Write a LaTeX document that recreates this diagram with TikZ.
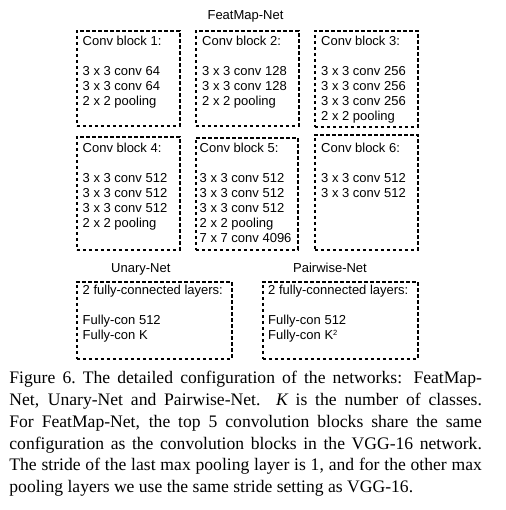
\documentclass[tikz,border=0pt]{standalone}
\usepackage{fontspec}
\newfontfamily\boxfont{Liberation Sans}
\newfontfamily\capfont{Liberation Serif}
\newcommand\bfnt{\boxfont\fontsize{13}{15}\selectfont}
\newcommand\cfnt{\capfont\fontsize{17.6}{21.9}\selectfont}
\newcommand\cfgtab[1]{\begin{tabular}[t]{@{}l@{}}#1\end{tabular}}
\newcommand\capline[1]{\makebox[472.5pt][s]{#1}}
\newcommand\smallsup[1]{\raisebox{4.5pt}{\fontsize{7.5}{8}\selectfont #1}}
\tikzset{
  dbox/.style={draw, line width=1.8pt, dash pattern=on 3.5pt off 2.5pt, inner sep=0pt, anchor=north west},
  btxt/.style={font=\bfnt, inner sep=0pt, anchor=base west},
  ttl/.style={font=\bfnt, inner sep=0pt, anchor=base},
  captxt/.style={font=\cfnt, inner sep=0pt, anchor=base west}
}
\begin{document}
\begin{tikzpicture}[x=1pt,y=-1pt]
\useasboundingbox (0,0) rectangle (505,510);
% titles
\node[ttl] (tfeat) at (245.5,20) {FeatMap-Net};
\node[ttl] (tun) at (140.8,272.5) {Unary-Net};
\node[ttl] (tpw) at (330,272.5) {Pairwise-Net};
% boxes row 1
\node[dbox, minimum width=103pt, minimum height=95pt] (b1) at (76,30) {};
\node[dbox, minimum width=103pt, minimum height=95pt] (b2) at (195,30) {};
\node[dbox, minimum width=103pt, minimum height=96pt] (b3) at (314,30) {};
% boxes row 2
\node[dbox, minimum width=103pt, minimum height=113pt] (b4) at (76,136) {};
\node[dbox, minimum width=102pt, minimum height=112pt] (b5) at (195,137) {};
\node[dbox, minimum width=103pt, minimum height=115pt] (b6) at (314,134) {};
% boxes row 3
\node[dbox, minimum width=155pt, minimum height=77pt] (bu) at (76,281) {};
\node[dbox, minimum width=155pt, minimum height=77pt] (bp) at (262,281) {};
% texts
\node[btxt] (x1) at (82.5,45.7) {\cfgtab{Conv block 1:\\ \\ 3 x 3 conv 64\\ 3 x 3 conv 64\\ 2 x 2 pooling}};
\node[btxt] (x2) at (202,45.7) {\cfgtab{Conv block 2:\\ \\ 3 x 3 conv 128\\ 3 x 3 conv 128\\ 2 x 2 pooling}};
\node[btxt] (x3) at (321,45.7) {\cfgtab{Conv block 3:\\ \\ 3 x 3 conv 256\\ 3 x 3 conv 256\\ 3 x 3 conv 256\\ 2 x 2 pooling}};
\node[btxt] (x4) at (82.5,153) {\cfgtab{Conv block 4:\\ \\ 3 x 3 conv 512\\ 3 x 3 conv 512\\ 3 x 3 conv 512\\ 2 x 2 pooling}};
\node[btxt] (x5) at (199.5,153) {\cfgtab{Conv block 5:\\ \\ 3 x 3 conv 512\\ 3 x 3 conv 512\\ 3 x 3 conv 512\\ 2 x 2 pooling\\ 7 x 7 conv 4096}};
\node[btxt] (x6) at (321,152.3) {\cfgtab{Conv block 6:\\ \\ 3 x 3 conv 512\\ 3 x 3 conv 512}};
\node[btxt] (xu) at (82.5,294.5) {\cfgtab{2 fully-connected layers:\\ \\ Fully-con 512\\ Fully-con K}};
\node[btxt] (xp) at (268,294.5) {\cfgtab{2 fully-connected layers:\\ \\ Fully-con 512\\ Fully-con K\smallsup{2}}};
% caption
\node[captxt] (cap) at (9.2,383.3) {\cfgtab{%
\capline{Figure 6.\ The detailed configuration of the networks: FeatMap-}\\
\capline{Net, Unary-Net and Pairwise-Net.\ \ {\itshape K} is the number of classes.}\\
\capline{For FeatMap-Net, the top 5 convolution blocks share the same}\\
\capline{configuration as the convolution blocks in the VGG-16 network.}\\
\capline{The stride of the last max pooling layer is 1, and for the other max}\\
pooling layers we use the same stride setting as VGG-16.}};
\end{tikzpicture}
\end{document}
